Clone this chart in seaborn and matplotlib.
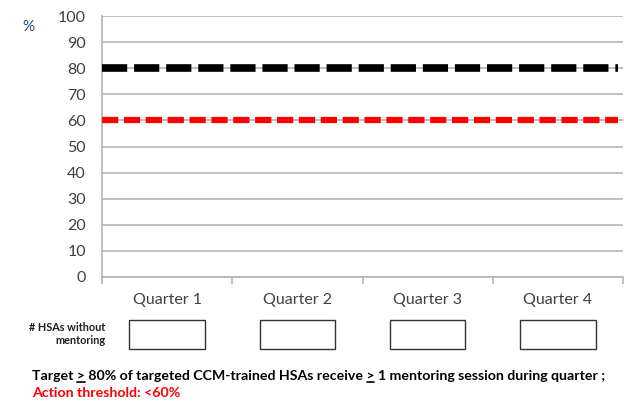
import numpy as np
import pandas as pd
import matplotlib
matplotlib.use("Agg")
import matplotlib.pyplot as plt
from matplotlib.patches import Rectangle
from matplotlib.lines import Line2D
import matplotlib.transforms as mtransforms
import seaborn as sns

# ---- data ----
quarters = ["Quarter 1", "Quarter 2", "Quarter 3", "Quarter 4"]
coverage = [0, 0, 0, 0]          # no reported values (empty chart)
target = 80
action_threshold = 60
yticks = [0, 10, 20, 30, 40, 50, 60, 70, 80, 90, 100]
footnote = "Target > 80% of targeted CCM-trained HSAs receive > 1 mentoring session during quarter ;"
threshold_note = "Action threshold: <60%"

sns.set_theme(style="white")
plt.rcParams["font.family"] = ["Lato", "DejaVu Sans"]

fig = plt.figure(figsize=(6.24, 4.01), dpi=100)
ax = fig.add_axes([102/624, 1-277/401, 521/624, 261/401])

df = pd.DataFrame({"quarter": quarters, "value": coverage})
sns.barplot(data=df, x="quarter", y="value", ax=ax, color="#4F81BD", width=0.6)

ax.axhline(target, color="black", lw=5.5, ls=(0, (3.3, 0.9)), xmax=0.99, zorder=3)
ax.axhline(action_threshold, color="#FF0000", lw=4.5, ls=(0, (2.6, 0.9)), xmax=0.99, zorder=3)

ax.set_ylim(0, 100)
ax.set_xlim(-0.5, 3.5)
ax.set_yticks(yticks)
ax.set_yticklabels([str(v) for v in yticks], fontsize=11.5, color="#404040")
ax.tick_params(axis="y", length=0, pad=11.5)
ax.yaxis.grid(True, color="#B4B4B4", lw=1.2)
ax.set_axisbelow(True)
ax.set_xlabel("")
ax.set_ylabel("")

ax.set_xticks(range(len(quarters)))
ax.set_xticklabels(quarters, fontsize=11.5, color="#404040")
ax.set_xticks(np.arange(-0.5, len(quarters), 1.0), minor=True)
ax.tick_params(axis="x", which="major", length=0, pad=11.5)
ax.tick_params(axis="x", which="minor", length=5, color="#B4B4B4", width=1.2, bottom=True)

for s in ["top", "right"]:
    ax.spines[s].set_visible(False)
for s in ["left", "bottom"]:
    ax.spines[s].set_color("#B4B4B4")
    ax.spines[s].set_linewidth(1.2)

fig.text(22/624, 1-27/401, "%", fontsize=11, color="#1F497D", ha="left", va="center")

# boxes for "# HSAs without mentoring"
trans = mtransforms.blended_transform_factory(ax.transData, fig.transFigure)
for i, q in enumerate(quarters):
    r = Rectangle((i - 0.29, 1-349/401), 0.58, 29/401, transform=trans,
                  fill=False, edgecolor="#333333", lw=1.0, clip_on=False)
    fig.add_artist(r)

fig.text(105/624, 1-334/401, "# HSAs without\nmentoring", fontsize=7.8, fontweight="bold",
         color="#1F1F1F", ha="right", va="center", linespacing=1.25)

fs = 10.2
x0 = 32
ybase = 401 - 380  # baseline in pixels from bottom
fig.text(x0/624, ybase/401, footnote, fontsize=fs, fontweight="bold", color="black",
         ha="left", va="baseline")
fig.text(x0/624, (401-397)/401, threshold_note, fontsize=fs, fontweight="bold",
         color="#FF0000", ha="left", va="baseline")

# underline the ">" signs (meaning "greater than or equal")
renderer = fig.canvas.get_renderer()
def width_px(s):
    t = fig.text(0, 0, s, fontsize=fs, fontweight="bold")
    w = t.get_window_extent(renderer).width
    t.remove()
    return w
gt_w = width_px(">")
idx = -1
while True:
    idx = footnote.find(">", idx + 1)
    if idx < 0:
        break
    end = x0 + width_px(footnote[:idx + 1])
    start = end - gt_w
    fig.add_artist(Line2D([(start + 0.5)/624, (end - 0.5)/624],
                          [(ybase - 2.2)/401, (ybase - 2.2)/401],
                          transform=fig.transFigure, color="black", lw=1.2))

fig.savefig("out.png", dpi=100)
